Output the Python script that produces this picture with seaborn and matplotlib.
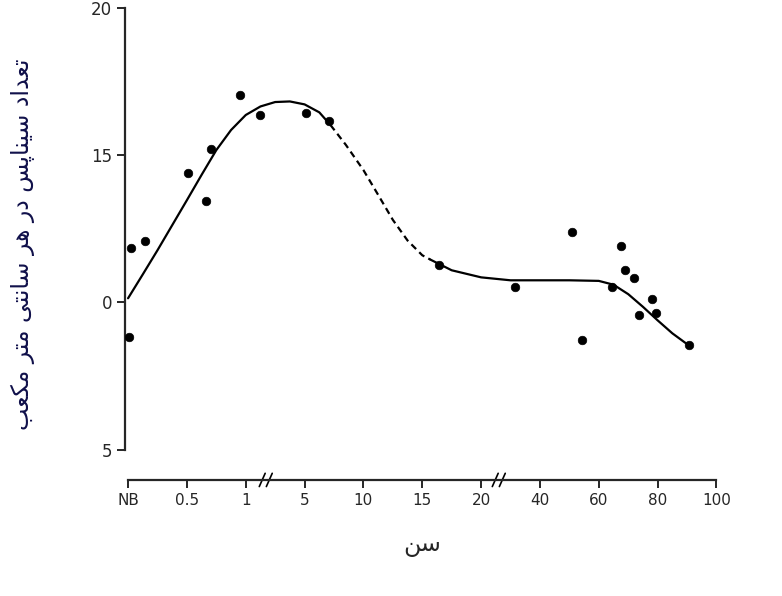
import matplotlib
matplotlib.use("Agg")
import matplotlib.pyplot as plt
import seaborn as sns
import pandas as pd

# x categories (evenly spaced on the axis, with breaks)
age_labels = ["NB", "0.5", "1", "5", "10", "15", "20", "40", "60", "80", "100"]
y_ticks = [5, 10, 15, 20]
y_tick_labels = ["5", "0", "15", "20"]

# data points: position along the category axis, synapse count
pt_x = [0.02, 0.05, 0.29, 1.02, 1.32, 1.41, 1.90, 2.25, 3.02, 3.41, 5.29,
        6.58, 7.54, 7.71, 8.22, 8.37, 8.44, 8.59, 8.69, 8.90, 8.97, 9.53]
pt_y = [8.84, 11.84, 12.10, 14.39, 13.44, 15.20, 17.04, 16.36, 16.43, 16.16, 11.26,
        10.51, 12.38, 8.74, 10.51, 11.90, 11.09, 10.82, 9.56, 10.10, 9.63, 8.54]

# fitted curve
solid1_x = [0.0, 0.25, 0.5, 0.75, 1.0, 1.25, 1.5, 1.75, 2.0, 2.25, 2.5, 2.75, 3.0, 3.25, 3.44]
solid1_y = [10.14, 10.95, 11.77, 12.62, 13.47, 14.33, 15.17, 15.85, 16.36, 16.65, 16.80, 16.82, 16.72, 16.45, 16.02]
dash_x = [3.44, 3.7, 4.0, 4.25, 4.5, 4.75, 5.0, 5.14]
dash_y = [16.02, 15.35, 14.49, 13.65, 12.80, 12.10, 11.60, 11.45]
solid2_x = [5.14, 5.5, 6.0, 6.5, 7.0, 7.5, 8.0, 8.25, 8.5, 8.75, 9.0, 9.25, 9.53]
solid2_y = [11.45, 11.09, 10.85, 10.75, 10.75, 10.75, 10.73, 10.60, 10.28, 9.85, 9.39, 8.95, 8.54]

y_title = "تعداد سیناپس در هر سانتی متر مکعب"
x_title = "سن"

FORMS = {
    "ت": "\uFE95\uFE96\uFE97\uFE98", "ع": "\uFEC9\uFECA\uFECB\uFECC",
    "د": "\uFEA9\uFEAA", "ا": "\uFE8D\uFE8E", "ر": "\uFEAD\uFEAE",
    "س": "\uFEB1\uFEB2\uFEB3\uFEB4", "ی": "\uFBFC\uFBFD\uFBFE\uFBFF",
    "ن": "\uFEE5\uFEE6\uFEE7\uFEE8", "پ": "\uFB56\uFB57\uFB58\uFB59",
    "ه": "\uFEE9\uFEEA\uFEEB\uFEEC", "م": "\uFEE1\uFEE2\uFEE3\uFEE4",
    "ک": "\uFB8E\uFB8F\uFB90\uFB91", "ب": "\uFE8F\uFE90\uFE91\uFE92",
}


def shape(text):
    # minimal Persian shaping + visual reordering for matplotlib
    out = []
    for i, c in enumerate(text):
        if c not in FORMS:
            out.append(c)
            continue
        prev = text[i - 1] if i > 0 else " "
        nxt = text[i + 1] if i + 1 < len(text) else " "
        jp = prev in FORMS and len(FORMS[prev]) == 4
        jn = nxt in FORMS and len(FORMS[c]) == 4
        f = FORMS[c]
        if jp and jn:
            out.append(f[3])
        elif jp:
            out.append(f[1])
        elif jn:
            out.append(f[2])
        else:
            out.append(f[0])
    return "".join(out)[::-1]


sns.set_style("ticks")
plt.rcParams["font.family"] = ["DejaVu Sans"]

fig = plt.figure(figsize=(7.82, 5.96), dpi=100)
ax = fig.add_axes([0.16, 0.195, 0.76, 0.792])

sns.scatterplot(x=pt_x, y=pt_y, color="black", s=38, edgecolor="black", ax=ax, zorder=3)
sns.lineplot(x=solid1_x, y=solid1_y, color="black", lw=1.6, ax=ax, sort=False)
sns.lineplot(x=dash_x, y=dash_y, color="black", lw=1.6, ls=(0, (3, 2)), ax=ax, sort=False)
sns.lineplot(x=solid2_x, y=solid2_y, color="black", lw=1.6, ax=ax, sort=False)

ax.set_xlim(-0.05, 10.05)
ax.set_ylim(3.98, 20)
ax.set_yticks(y_ticks)
ax.set_yticklabels(y_tick_labels, fontsize=12)
ax.set_xticks(range(len(age_labels)))
ax.set_xticklabels(age_labels, fontsize=11)
ax.spines["left"].set_bounds(5, 20)
ax.spines["bottom"].set_bounds(0, 10)
ax.spines["left"].set_linewidth(1.6)
ax.spines["bottom"].set_linewidth(1.6)
ax.tick_params(width=1.4, length=6)
sns.despine(ax=ax)

# axis break marks
for bx in [2.34, 6.3]:
    for dx in [-0.06, 0.06]:
        ax.plot([bx + dx - 0.05, bx + dx + 0.05], [3.75, 4.2], color="black", lw=1.2, clip_on=False)

ax.set_ylabel(shape(y_title), fontsize=17, color="#10104a", labelpad=40)
ax.set_xlabel(shape(x_title), fontsize=17, labelpad=18)

fig.savefig("out.png", dpi=100)
